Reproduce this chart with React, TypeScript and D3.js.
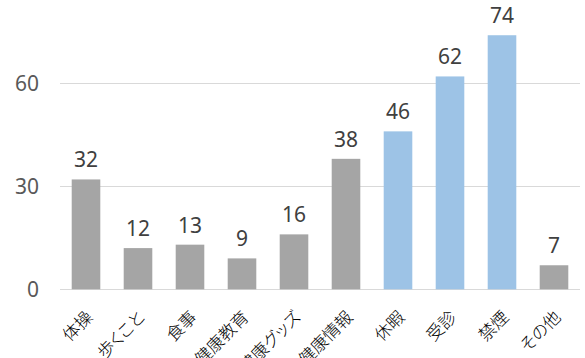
import React from "react";
import * as d3 from "d3";

const categories = ["体操", "歩くこと", "食事", "健康教育", "健康グッズ", "健康情報", "休暇", "受診", "禁煙", "その他"];
const values = [32, 12, 13, 9, 16, 38, 46, 62, 74, 7];
const highlighted = ["休暇", "受診", "禁煙"];
const yTicks = [0, 30, 60];

const W = 585;
const H = 358;

export default function App() {
  const x = d3.scaleBand<string>().domain(categories).range([60, 580]).paddingInner(0.45).paddingOuter(0.225);
  const y = d3.scaleLinear().domain([0, 90]).range([289.3, -19.7]);
  const numFont = "'Noto Sans', 'Open Sans', sans-serif";
  const jpFont = "'Noto Sans CJK JP', sans-serif";
  return (
    <svg width={W} height={H} style={{ position: "absolute", left: 0, top: 0 }}>
      <rect width={W} height={H} fill="#fff" />
      {yTicks.map((t) => (
        <g key={t}>
          <line x1={60} x2={580} y1={Math.round(y(t)) + 0.5} y2={Math.round(y(t)) + 0.5} stroke="#D9D9D9" strokeWidth={1} />
          <text x={39} y={y(t)} textAnchor="end" dominantBaseline="central" fontFamily={numFont} fontSize={21} fill="#595959">
            {t}
          </text>
        </g>
      ))}
      {categories.map((c, i) => {
        const bx = x(c)!;
        const bw = x.bandwidth();
        const v = values[i];
        return (
          <g key={c}>
            <rect x={bx} y={y(v)} width={bw} height={y(0) - y(v)} fill={highlighted.includes(c) ? "#9DC3E6" : "#A5A5A5"} />
            <text x={bx + bw / 2} y={y(v) - 12} textAnchor="middle" fontFamily={numFont} fontSize={21} fill="#404040">
              {v}
            </text>
            <text
              transform={`translate(${bx + bw / 2 + 2.5},313) rotate(-45)`}
              textAnchor="end"
              dominantBaseline="central"
              fontFamily={jpFont}
              fontSize={17}
              fontWeight={300}
              style={{ fontFeatureSettings: '"palt"' }}
              fill="#000"
            >
              {c}
            </text>
          </g>
        );
      })}
    </svg>
  );
}
